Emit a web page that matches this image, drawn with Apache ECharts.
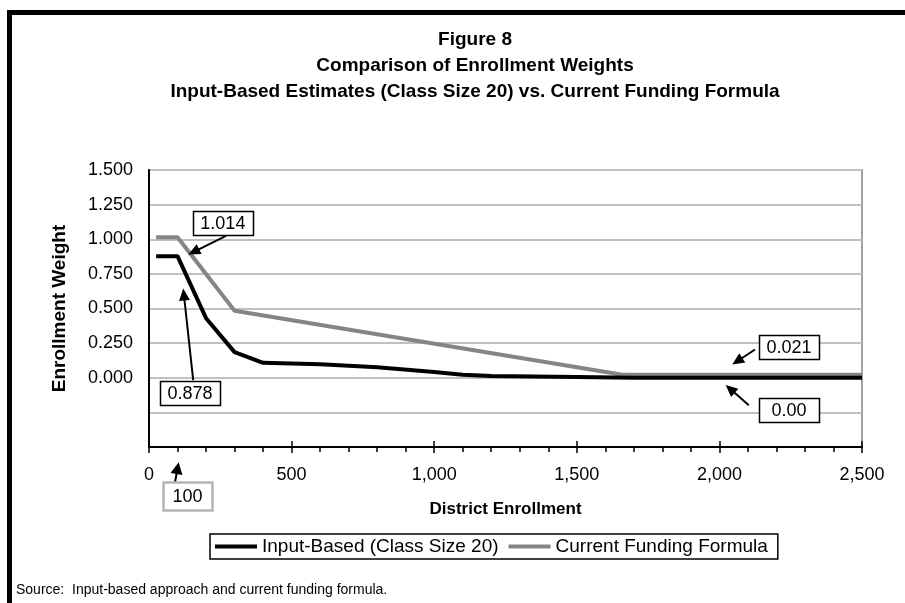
<!DOCTYPE html>
<html>
<head>
<meta charset="utf-8">
<title>Figure 8</title>
<script src="https://cdn.jsdelivr.net/npm/echarts@6/dist/echarts.min.js"></script>
<style>
  html, body { margin: 0; padding: 0; background: #fff; }
  #chart { width: 905px; height: 603px; }
</style>
</head>
<body>
<div id="chart"></div>
<script>
// district enrollment vs weight
var enrollInput = [25, 100, 200, 300, 400, 600, 800, 1000, 1100, 1200, 1500, 1700, 2500];
var weightInput = [0.878, 0.878, 0.43, 0.185, 0.108, 0.098, 0.075, 0.042, 0.022, 0.013, 0.006, 0.0, 0.0];
var enrollFormula = [25, 100, 300, 1660, 2500];
var weightFormula = [1.014, 1.014, 0.484, 0.021, 0.021];
var seriesNames = ['Input-Based (Class Size 20)', 'Current Funding Formula'];
var xTicks = [0, 500, 1000, 1500, 2000, 2500];
var yTicks = [0, 0.25, 0.5, 0.75, 1, 1.25, 1.5];

// callouts: label, box centre, arrow tail, arrow head (data units)
var callouts = [
  { text: '1.014', box: [259, 1.115], from: [270, 1.024], to: [138, 0.89] },
  { text: '0.878', box: [144, -0.11], from: [155, -0.017], to: [120, 0.644] },
  { text: '0.021', box: [2244, 0.225], from: [2125, 0.204], to: [2045, 0.096] },
  { text: '0.00', box: [2244, -0.235], from: [2103, -0.198], to: [2022, -0.052] }
];
var markerX = 100;

var FONT = '"Liberation Sans", Arial, sans-serif';
var dom = document.getElementById('chart');
var chart = echarts.init(dom);

function pairs(xs, ys) {
  return xs.map(function (x, i) { return [x, ys[i]]; });
}

var option = {
  animation: false,
  title: {
    text: 'Figure 8\nComparison of Enrollment Weights\nInput-Based Estimates (Class Size 20) vs. Current Funding Formula',
    left: 470,
    top: 22,
    textAlign: 'center',
    textStyle: { fontFamily: FONT, fontSize: 19, fontWeight: 'bold', color: '#000', lineHeight: 26 }
  },
  grid: {
    left: 149, right: 43, top: 170, bottom: 156,
    show: true, borderColor: '#a0a0a0', borderWidth: 2, backgroundColor: '#fff'
  },
  legend: {
    data: seriesNames,
    left: 210, top: 534,
    icon: 'rect', itemWidth: 42, itemHeight: 4, itemGap: 10,
    padding: [3, 10, 3, 5],
    borderColor: '#000', borderWidth: 1.5,
    textStyle: { fontFamily: FONT, fontSize: 19, color: '#000' }
  },
  xAxis: [{
    type: 'value', min: 0, max: 2500, interval: 500,
    name: 'District Enrollment', nameLocation: 'middle', nameGap: 54,
    nameTextStyle: { fontFamily: FONT, fontSize: 17, fontWeight: 'bold', color: '#000' },
    axisLine: { onZero: false, lineStyle: { color: '#000', width: 2 } },
    axisTick: { show: true, length: 6, lineStyle: { color: '#000', width: 1.5 } },
    minorTick: { show: true, splitNumber: 5, length: 5, lineStyle: { color: '#000', width: 1.5 } },
    axisLabel: {
      fontFamily: FONT, fontSize: 18, color: '#000', margin: 19,
      formatter: function (v) { return xTicks.indexOf(v) >= 0 ? v.toLocaleString('en-US') : ''; }
    },
    splitLine: { show: false }
  }, {
    // upper half of the major ticks
    type: 'value', min: 0, max: 2500, interval: 500, position: 'bottom',
    axisLine: { show: false, onZero: false },
    axisTick: { show: true, inside: true, length: 6, lineStyle: { color: '#000', width: 1.5 } },
    axisLabel: { show: false },
    splitLine: { show: false }
  }],
  yAxis: {
    type: 'value', min: -0.5, max: 1.5, interval: 0.25,
    name: 'Enrollment Weight', nameLocation: 'middle', nameGap: 80,
    nameTextStyle: { fontFamily: FONT, fontSize: 19, fontWeight: 'bold', color: '#000' },
    axisLine: { show: true, onZero: false, lineStyle: { color: '#000', width: 2 } },
    axisTick: { show: false },
    axisLabel: {
      fontFamily: FONT, fontSize: 18, color: '#000', margin: 16,
      formatter: function (v) {
        var hit = yTicks.some(function (t) { return Math.abs(t - v) < 1e-9; });
        return hit ? v.toFixed(3) : '';
      }
    },
    splitLine: { show: true, lineStyle: { color: '#c0c0c0', width: 2 } }
  },
  series: [{
    name: seriesNames[0], type: 'line', xAxisIndex: 0,
    data: pairs(enrollInput, weightInput),
    showSymbol: false, symbol: 'none',
    lineStyle: { color: '#000', width: 4 }, itemStyle: { color: '#000' }, z: 3
  }, {
    name: seriesNames[1], type: 'line', xAxisIndex: 0,
    data: pairs(enrollFormula, weightFormula),
    showSymbol: false, symbol: 'none',
    lineStyle: { color: '#858585', width: 4 }, itemStyle: { color: '#858585' }, z: 2
  }]
};
chart.setOption(option);

function px(p) {
  return chart.convertToPixel({ xAxisIndex: 0, yAxisIndex: 0 }, p);
}

function arrow(from, to, headLen, headHalf) {
  var a = px(from), b = px(to);
  var dx = b[0] - a[0], dy = b[1] - a[1];
  var len = Math.sqrt(dx * dx + dy * dy);
  var ux = dx / len, uy = dy / len;
  var bx = b[0] - ux * headLen, by = b[1] - uy * headLen;
  return [{
    type: 'line', z: 20,
    shape: { x1: a[0], y1: a[1], x2: bx + ux * 2, y2: by + uy * 2 },
    style: { stroke: '#000', lineWidth: 2 }
  }, {
    type: 'polygon', z: 20,
    shape: { points: [[b[0], b[1]], [bx - uy * headHalf, by + ux * headHalf], [bx + uy * headHalf, by - ux * headHalf]] },
    style: { fill: '#000' }
  }];
}

function box(text, centre, w, h, stroke) {
  var c = px(centre);
  return [{
    type: 'rect', z: 21,
    shape: { x: Math.round(c[0] - w / 2) + 0.5, y: Math.round(c[1] - h / 2) + 0.5, width: w, height: h },
    style: { fill: '#fff', stroke: stroke, lineWidth: stroke === '#000' ? 1.5 : 2.5 }
  }, {
    type: 'text', z: 22,
    x: c[0], y: c[1] + 1,
    style: { text: text, fill: '#000', font: '18px ' + FONT, align: 'center', verticalAlign: 'middle' }
  }];
}

var g = [];
// outer frame
g.push({ type: 'line', shape: { x1: 7, y1: 12.5, x2: 905, y2: 12.5 }, style: { stroke: '#000', lineWidth: 5 } });
g.push({ type: 'line', shape: { x1: 9.5, y1: 10, x2: 9.5, y2: 603 }, style: { stroke: '#000', lineWidth: 5 } });

// dotted marker at 100 students
var top = px([markerX, 1.35]), bot = px([markerX, -0.6]);
g.push({
  type: 'line', z: 5,
  shape: { x1: top[0], y1: top[1], x2: bot[0], y2: bot[1] },
  style: { stroke: '#999', lineWidth: 2, lineDash: [2, 3] }
});
g = g.concat(box('100', [135, -0.856], 49, 28, '#b4b4b4'));
g = g.concat(arrow([91, -0.756], [104, -0.61], 12, 6));

callouts.forEach(function (c) {
  g = g.concat(arrow(c.from, c.to, 12, 5.5));
  g = g.concat(box(c.text, c.box, 60, 24, '#000'));
});

// source note
g.push({
  type: 'text', x: 16, y: 590,
  style: { text: 'Source:  Input-based approach and current funding formula.', fill: '#000', font: '14px ' + FONT, verticalAlign: 'middle' }
});

chart.setOption({ graphic: g });
</script>
</body>
</html>
